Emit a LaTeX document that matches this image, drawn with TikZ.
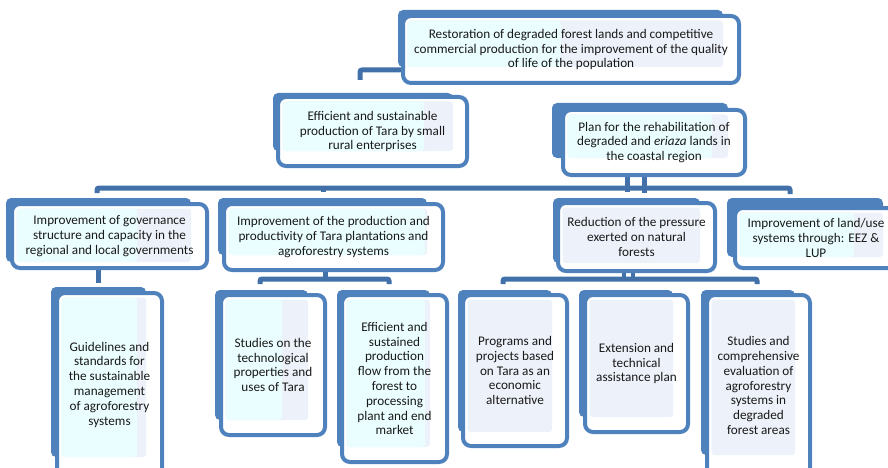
\documentclass[tikz,border=0pt]{standalone}
\usepackage{fontspec}
\setmainfont{Carlito}
\usetikzlibrary{calc}
\definecolor{bxblue}{RGB}{79,129,189}
\definecolor{cnblue}{RGB}{66,112,168}
\definecolor{cyanfill}{RGB}{234,254,255}
\definecolor{lavfill}{RGB}{237,241,249}
\tikzset{
  backbox/.style={fill=bxblue, rounded corners=5pt},
  frontbox/.style={fill=white, draw=bxblue, line width=4pt, rounded corners=8pt},
  innerlav/.style={fill=lavfill, rounded corners=3pt},
  innercyan/.style={fill=cyanfill, rounded corners=3pt},
  boxtext/.style={align=center, inner sep=0pt, text=black!90, font=\fontsize{13.2}{14.8}\selectfont},
  conn/.style={draw=cnblue, line width=5pt, rounded corners=2pt}
}
% #1 name, #2 back corner 1, #3 back corner 2, #4 front corner 1, #5 front corner 2, #6 split x, #7 text
\newcommand\tbox[7]{%
  \coordinate (#1-b1) at (#2);
  \coordinate (#1-b2) at (#3);
  \coordinate (#1-f1) at (#4);
  \coordinate (#1-f2) at (#5);
  \coordinate (#1-s) at (#6,0);
  \path[backbox] (#1-b1) rectangle (#1-b2);
  \path[frontbox] (#1-f1) rectangle (#1-f2);
  \coordinate (#1-i1) at ($(#1-f1)+(4.5,4.5)$);
  \path[innerlav] (#1-i1) rectangle (#1-b2);
  \path[innercyan] (#1-i1) rectangle (#1-s |- #1-b2);
  \node[boxtext] (#1) at ($(#1-f1)!0.5!(#1-f2)$) {#7};
}
\begin{document}
\begin{tikzpicture}[x=1pt,y=-1pt]
\useasboundingbox (0,0) rectangle (888,468);
\clip (0,0) rectangle (888,468);

% connectors
\coordinate (k1) at (405,70);
\coordinate (k2) at (360,70);
\coordinate (k3) at (360,80);
\draw[conn] (k1) -- (k2) -- (k3);

\coordinate (h1) at (97,193);
\coordinate (h2) at (97,188);
\coordinate (h3) at (790,188);
\coordinate (h4) at (790,194);
\draw[conn] (h1) -- (h2) -- (h3) -- (h4);
\coordinate (t1) at (323,188);
\coordinate (t2) at (323,192);
\draw[conn] (t1) -- (t2);
\coordinate (p1) at (627,176);
\coordinate (p2) at (627,192);
\coordinate (p3) at (644,176);
\coordinate (p4) at (644,193);
\draw[conn] (p1) -- (p2);
\draw[conn] (p3) -- (p4);

\coordinate (g1) at (98,266);
\coordinate (g2) at (98,283);
\draw[conn] (g1) -- (g2);

\coordinate (q1) at (325,269);
\coordinate (q2) at (325,279);
\draw[conn] (q1) -- (q2);
\coordinate (q3) at (260,284);
\coordinate (q4) at (260,279);
\coordinate (q5) at (389,279);
\coordinate (q6) at (389,284);
\draw[conn] (q3) -- (q4) -- (q5) -- (q6);

\coordinate (r1) at (624,269);
\coordinate (r2) at (624,279);
\coordinate (r3) at (633,269);
\coordinate (r4) at (633,279);
\draw[conn, line width=4pt] (r1) -- (r2);
\draw[conn, line width=4pt] (r3) -- (r4);
\coordinate (r5) at (503,284);
\coordinate (r6) at (503,279);
\coordinate (r7) at (757,279);
\coordinate (r8) at (757,284);
\draw[conn] (r5) -- (r6) -- (r7) -- (r8);

% boxes
\tbox{top}{398,10}{723,67}{403,16}{739,83}{561}{Restoration of degraded forest lands and competitive\\commercial production for the improvement of the quality\\of life of the population}
\tbox{eff}{273,93}{453,151}{278,97}{467,166}{424}{Efficient and sustainable\\production of Tara by small\\rural enterprises}
\tbox{plan}{552,103}{728,158}{563,110}{745,175}{712}{Plan for the rehabilitation of\\degraded and \textit{eriaza} lands in\\the coastal region}
\tbox{gov}{6,198}{191,262}{12,204}{207,268}{137}{Improvement of governance\\structure and capacity in the\\regional and local governments}
\tbox{prod}{218,198}{427,255}{224,204}{443,270}{425}{Improvement of the production and\\productivity of Tara plantations and\\agroforestry systems}
\tbox{red}{553,198}{700,263}{558,203}{715,271}{562.5}{Reduction of the pressure\\exerted on natural\\forests}
\tbox{land}{727,198}{883,257}{735,208}{897,268}{854}{Improvement of land/use\\systems through: EEZ \&\\LUP}
\tbox{guide}{51,287}{146,457}{57,293}{162,476}{137}{Guidelines and\\standards for\\the sustainable\\management\\of agroforestry\\systems}
\tbox{stud}{215,290}{308,420}{221,295}{325,435}{282}{Studies on the\\technological\\properties and\\uses of Tara}
\tbox{flow}{337,290}{430,447}{342,295}{447,462}{425}{Efficient and\\sustained\\production\\flow from the\\forest to\\processing\\plant and end\\market}
\tbox{prog}{458,290}{552,432}{463,295}{567,446}{467.5}{Programs and\\projects based\\on Tara as an\\economic\\alternative}
\tbox{ext}{579,290}{673,417}{585,295}{688,432}{589.5}{Extension and\\technical\\assistance plan}
\tbox{comp}{701,290}{795,455}{707,295}{810,476}{711.5}{Studies and\\comprehensive\\evaluation of\\agroforestry\\systems in\\degraded\\forest areas}
\end{tikzpicture}
\end{document}
